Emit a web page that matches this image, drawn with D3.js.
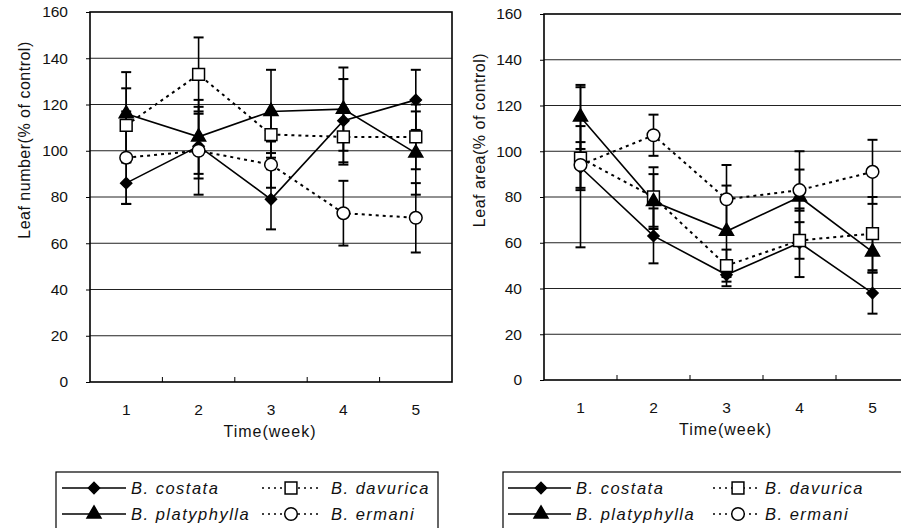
<!DOCTYPE html>
<html><head><meta charset="utf-8">
<script src="https://cdn.jsdelivr.net/npm/d3@7"></script>
<style>
html,body{margin:0;padding:0;background:#fff;}
text{font-family:"Liberation Sans",Arial,sans-serif;fill:#111;}
</style></head><body>
<svg id="chart" width="901" height="528"></svg>
<script>
// ---- data ----
const weeks = ["1","2","3","4","5"];
const yTicks = [0,20,40,60,80,100,120,140,160];
const seriesNames = ["B. costata","B. davurica","B. platyphylla","B. ermani"];

const numCostata = [86, 102, 79, 113, 122];
const numCostataErr = [9, 14, 13, 18, 13];
const numDavurica = [111, 133, 107, 106, 106];
const numDavuricaErr = [16, 16, 10, 12, 14];
const numPlatyphylla = [116, 106, 117, 118, 99];
const numPlatyphyllaErr = [18, 16, 18, 18, 18];
const numErmani = [97, 100, 94, 73, 71];
const numErmaniErr = [20, 19, 10, 14, 15];

const areaCostata = [93, 63, 46, 60, 38];
const areaCostataErr = [35, 12, 5, 15, 9];
const areaDavurica = [97, 80, 50, 61, 64];
const areaDavuricaErr = [14, 13, 7, 8, 16];
const areaPlatyphylla = [115, 78, 65, 80, 56];
const areaPlatyphyllaErr = [14, 12, 20, 20, 9];
const areaErmani = [94, 107, 79, 83, 91];
const areaErmaniErr = [10, 9, 15, 9, 14];

const svg = d3.select("#chart");

const styles = [
  {marker: d3.symbolSquare, size: 62, rot: 45, fill:"#000", dash:null},
  {marker: d3.symbolSquare, size: 140, rot: 0, fill:"#fff", dash:"3,4"},
  {marker: d3.symbolTriangle, size: 85, rot: 0, fill:"#000", dash:null},
  {marker: d3.symbolCircle, size: 125, rot: 0, fill:"#fff", dash:"3,4"}
];

function drawPanel(cfg){
  const g = svg.append("g");
  const x = d3.scaleBand().domain(weeks).range([cfg.left, cfg.left + cfg.bandW*5]).paddingInner(0).paddingOuter(0);
  const y = d3.scaleLinear().domain([0,160]).range([cfg.bottom, cfg.top]);
  const right = cfg.left + cfg.bandW*5;

  // grid
  g.append("g").selectAll("line").data(yTicks.filter(t=>t>0&&t<160)).join("line")
    .attr("x1", cfg.left).attr("x2", right)
    .attr("y1", d=>y(d)).attr("y2", d=>y(d))
    .attr("stroke","#222").attr("stroke-width",1);

  // frame
  g.append("rect").attr("x",cfg.left).attr("y",cfg.top)
    .attr("width", right-cfg.left).attr("height", cfg.bottom-cfg.top)
    .attr("fill","none").attr("stroke","#000").attr("stroke-width",1.6);

  // y axis
  const ya = d3.axisLeft(y).tickValues(yTicks).tickSize(4).tickPadding(18);
  const yg = g.append("g").attr("transform",`translate(${cfg.left},0)`).call(ya);
  yg.select(".domain").remove();
  yg.selectAll("text").attr("font-size",15.5).attr("fill","#111").attr("font-family","Liberation Sans, Arial, sans-serif");
  yg.selectAll("line").attr("stroke","#000");

  // x axis labels
  const xa = d3.axisBottom(x).tickSize(0).tickPadding(22);
  const xg = g.append("g").attr("transform",`translate(0,${cfg.bottom})`).call(xa);
  xg.select(".domain").remove();
  xg.selectAll("text").attr("font-size",15.5).attr("fill","#111").attr("font-family","Liberation Sans, Arial, sans-serif");
  // inward ticks at category boundaries
  g.append("g").selectAll("line").data(weeks.slice(1)).join("line")
    .attr("x1", d=>x(d)).attr("x2", d=>x(d))
    .attr("y1", cfg.bottom).attr("y2", cfg.bottom-5)
    .attr("stroke","#000").attr("stroke-width",1);

  // titles
  g.append("text").attr("x", cfg.left + (right-cfg.left)/2 - 1).attr("y", cfg.bottom+55)
    .attr("text-anchor","middle").attr("font-size",16).attr("letter-spacing","1px").text("Time(week)");
  g.append("text").attr("transform",`translate(${cfg.titleX},140) rotate(-90)`)
    .attr("text-anchor","middle").attr("font-size",16).attr("letter-spacing","0.5px").text(cfg.title);

  const cx = d => x(d) + x.bandwidth()/2;
  const order = [0,1,2,3];
  // lines
  order.forEach(i=>{
    const vals = cfg.values[i];
    const line = d3.line().x((d,j)=>cx(weeks[j])).y(d=>y(d));
    g.append("path").datum(vals).attr("d",line).attr("fill","none")
      .attr("stroke","#000").attr("stroke-width", styles[i].dash?2:1.6)
      .attr("stroke-dasharray", styles[i].dash);
  });
  // error bars
  order.forEach(i=>{
    const vals = cfg.values[i], errs = cfg.errs[i];
    const eg = g.append("g").attr("stroke","#000").attr("stroke-width",1.6);
    vals.forEach((v,j)=>{
      const xc = cx(weeks[j]);
      eg.append("line").attr("x1",xc).attr("x2",xc).attr("y1",y(v-errs[j])).attr("y2",y(v+errs[j]));
      [v-errs[j], v+errs[j]].forEach(e=>{
        eg.append("line").attr("x1",xc-5).attr("x2",xc+5).attr("y1",y(e)).attr("y2",y(e)).attr("stroke-width",2);
      });
    });
  });
  // markers
  order.forEach(i=>{
    const vals = cfg.values[i];
    g.append("g").selectAll("path").data(vals).join("path")
      .attr("transform",(d,j)=>`translate(${cx(weeks[j])},${y(d)}) rotate(${styles[i].rot})`)
      .attr("d", d3.symbol().type(styles[i].marker).size(styles[i].size))
      .attr("fill", styles[i].fill).attr("stroke","#000").attr("stroke-width",1.5);
  });
}

drawPanel({left:90, top:12, bottom:382, bandW:72.4, titleX:30,
  title:"Leaf number(% of control)",
  values:[numCostata,numDavurica,numPlatyphylla,numErmani],
  errs:[numCostataErr,numDavuricaErr,numPlatyphyllaErr,numErmaniErr]});
drawPanel({left:544, top:14, bottom:380, bandW:73, titleX:485,
  title:"Leaf area(% of control)",
  values:[areaCostata,areaDavurica,areaPlatyphylla,areaErmani],
  errs:[areaCostataErr,areaDavuricaErr,areaPlatyphyllaErr,areaErmaniErr]});

// legends
function legend(cfg){
  const g = svg.append("g");
  g.append("rect").attr("x",cfg.x).attr("y",472).attr("width",cfg.w).attr("height",80)
    .attr("fill","#fff").attr("stroke","#000").attr("stroke-width",1.2);
  const rows = [488, 514];
  const items = [
    {i:0, col:0, row:0},{i:1, col:1, row:0},{i:2, col:0, row:1},{i:3, col:1, row:1}
  ];
  items.forEach(it=>{
    const c = cfg.cols[it.col];
    const yy = rows[it.row];
    g.append("line").attr("x1",c.l1).attr("x2",c.l2).attr("y1",yy).attr("y2",yy)
      .attr("stroke","#000").attr("stroke-width",1.6).attr("stroke-dasharray", styles[it.i].dash?"2,4":null);
    g.append("path").attr("transform",`translate(${c.m},${yy}) rotate(${styles[it.i].rot})`)
      .attr("d", d3.symbol().type(styles[it.i].marker).size(styles[it.i].size))
      .attr("fill",styles[it.i].fill).attr("stroke","#000").attr("stroke-width",1.5);
    g.append("text").attr("x",c.t).attr("y",yy+6).attr("font-size",16.5).attr("font-style","italic")
      .attr("letter-spacing","1.5px").text(seriesNames[it.i]);
  });
}
legend({x:56, w:382, cols:[{l1:62,l2:126,m:94,t:131},{l1:262,l2:320,m:291,t:331}]});
legend({x:503, w:420, cols:[{l1:508,l2:571,m:541,t:576},{l1:713,l2:760,m:738,t:765}]});
</script>
</body></html>
